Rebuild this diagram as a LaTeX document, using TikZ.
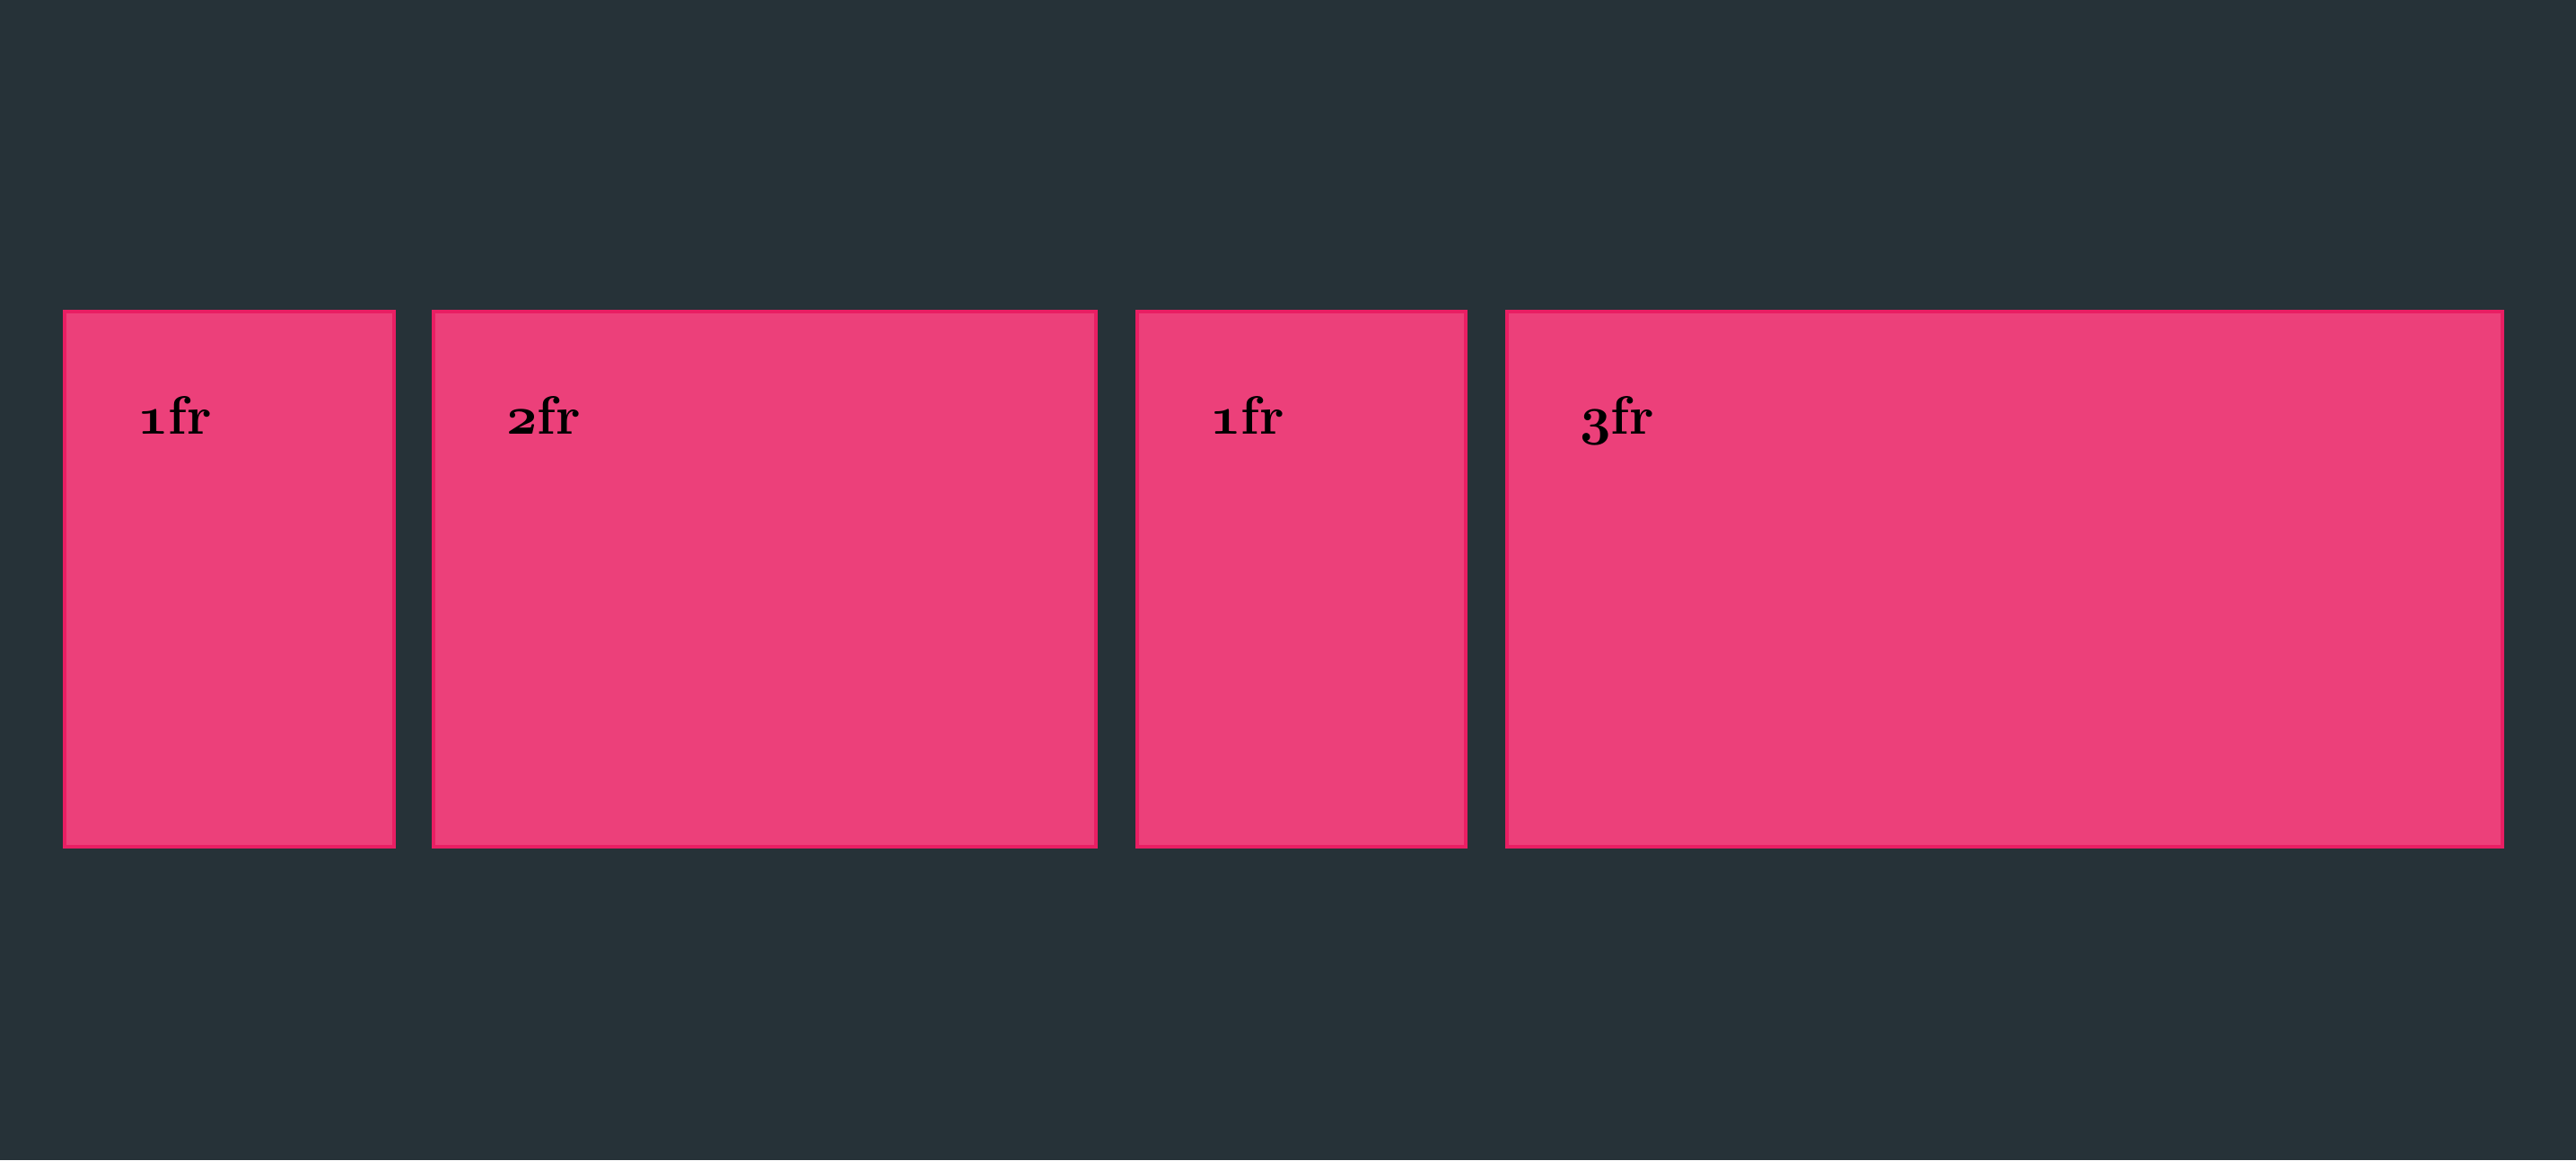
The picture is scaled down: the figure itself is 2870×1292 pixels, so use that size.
\RequirePackage{fix-cm}
\documentclass[tikz,border=0pt]{standalone}
\usepackage{tikz}

\definecolor{bggrey}{HTML}{263238}
\definecolor{cellfill}{HTML}{EC407A}
\definecolor{celledge}{HTML}{E91E63}

\newcommand{\frlabel}[1]{{\usefont{OML}{cmm}{b}{it}#1}\bfseries fr}

\begin{document}
\begin{tikzpicture}[x=0.5pt, y=-0.5pt,
  cell/.style={rectangle, draw=celledge, fill=cellfill, line width=2pt,
    minimum height=298pt, inner sep=0pt},
  celltext/.style={anchor=base west, inner sep=0pt,
    font=\fontsize{30}{32}\selectfont, text=black}]
 \fill[bggrey] (0,0) rectangle (2870,1292);
 % grid columns
 \node[cell, minimum width=183.3pt] (one) at (255.3,645) {};
 \node[cell, minimum width=369pt] (two) at (852,645) {};
 \node[cell, minimum width=183pt] (three) at (1450,645) {};
 \node[cell, minimum width=554.5pt] (four) at (2233.5,645) {};
 % column sizes
 \node[celltext] (oneL) at ([xshift=41.5pt, yshift=-69pt]one.north west) {\frlabel{1}};
 \node[celltext] (twoL) at ([xshift=41.5pt, yshift=-69pt]two.north west) {\frlabel{2}};
 \node[celltext] (threeL) at ([xshift=41.5pt, yshift=-69pt]three.north west) {\frlabel{1}};
 \node[celltext] (fourL) at ([xshift=41.5pt, yshift=-69pt]four.north west) {\frlabel{3}};
\end{tikzpicture}
\end{document}
